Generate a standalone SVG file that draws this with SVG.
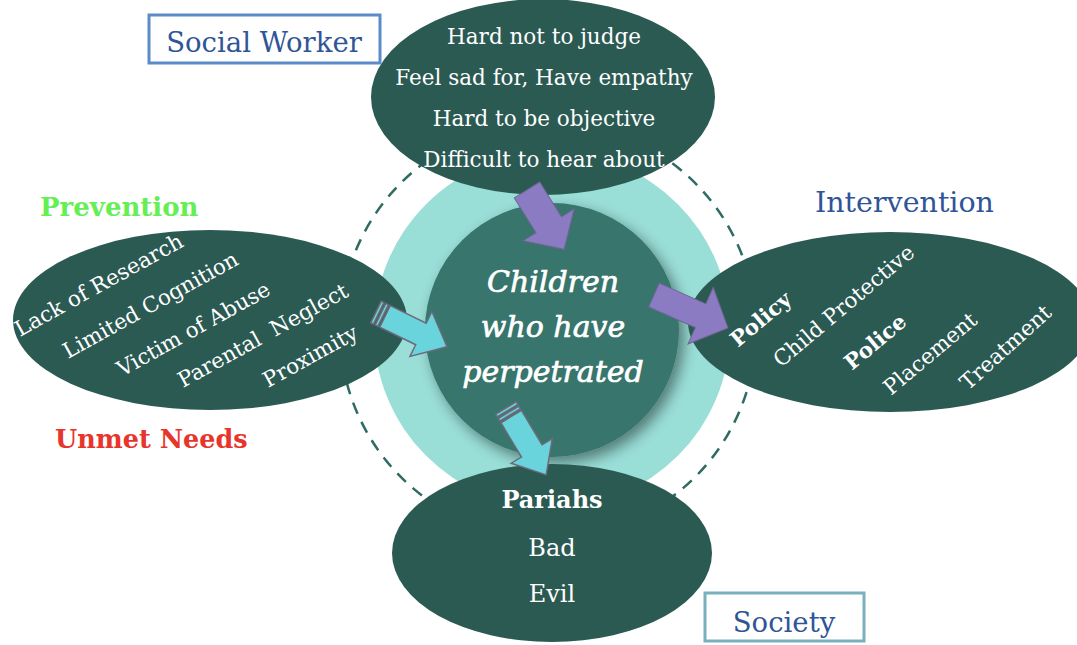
<svg xmlns="http://www.w3.org/2000/svg" width="1077" height="645" viewBox="0 0 1077 645">
<defs>
<style>
.node{fill:#2b5a53}
.t{font-family:"DejaVu Serif","Liberation Serif",serif;fill:#ffffff;font-size:21.5px}
.c{font-size:30px;font-style:italic;stroke:#ffffff;stroke-width:0.7px}
.big{font-size:24px}
.b{font-weight:bold}
.lbl{font-family:"DejaVu Serif","Liberation Serif",serif;font-size:27.5px}
.purple{fill:#8a7bc2;stroke:#6f6790;stroke-width:1}
.cyan{fill:#6ad4dc;stroke:#6b6b7a;stroke-width:1.5}
</style>
<filter id="sh" x="-20%" y="-20%" width="150%" height="150%">
<feDropShadow dx="5" dy="6" stdDeviation="7" flood-color="#000" flood-opacity="0.45"/>
</filter>
</defs>
<rect width="1077" height="645" fill="#ffffff"/>
<g id="rings">
<circle cx="548" cy="330" r="208" fill="none" stroke="#2e6b62" stroke-width="2.5" stroke-dasharray="12 9"/>
<circle cx="552" cy="330" r="178" fill="#99ded7"/>
</g>
<g id="node-center">
<circle cx="552" cy="330" r="127" fill="#37756c" filter="url(#sh)"/>
<text class="t c" text-anchor="middle"><tspan x="553" y="292">Children</tspan><tspan x="553" y="337">who have</tspan><tspan x="553" y="382">perpetrated</tspan></text>
</g>
<g id="node-socialworker">
<ellipse class="node" cx="543" cy="97" rx="172" ry="98"/>
<text class="t" text-anchor="middle"><tspan x="544" y="44">Hard not to judge</tspan><tspan x="544" y="85">Feel sad for, Have empathy</tspan><tspan x="544" y="126">Hard to be objective</tspan><tspan x="544" y="167">Difficult to hear about</tspan></text>
</g>
<g id="node-prevention">
<ellipse class="node" cx="210" cy="320" rx="197" ry="90"/>
<g class="t">
<text transform="translate(20,337) rotate(-29)">Lack of Research</text>
<text transform="translate(68,359) rotate(-29)">Limited Cognition</text>
<text transform="translate(122,377) rotate(-29)">Victim of Abuse</text>
<text transform="translate(183,388) rotate(-29)" xml:space="preserve">Parental  Neglect</text>
<text transform="translate(268,388) rotate(-29)">Proximity</text>
</g>
</g>
<g id="node-intervention">
<ellipse class="node" cx="890" cy="322" rx="202" ry="90"/>
<g class="t">
<text class="b" transform="translate(738,348) rotate(-40)">Policy</text>
<text transform="translate(781,368) rotate(-40)">Child Protective</text>
<text class="b" transform="translate(852,371) rotate(-40)">Police</text>
<text transform="translate(891,396) rotate(-40)">Placement</text>
<text transform="translate(968,391) rotate(-42)">Treatment</text>
</g>
</g>
<g id="node-society">
<ellipse class="node" cx="552" cy="553" rx="160" ry="89"/>
<text class="t big" text-anchor="middle"><tspan class="b" x="552" y="508">Pariahs</tspan><tspan x="552" y="556">Bad</tspan><tspan x="552" y="602">Evil</tspan></text>
</g>
<g id="connectors">
<path class="purple" transform="translate(527,190) rotate(58)" d="M0,-15 L41,-15 L41,-30 L70,0 L41,30 L41,15 L0,15 Z"/>
<path class="purple" transform="translate(654,295) rotate(24)" d="M0,-13 L51,-13 L51,-31 L81,0 L51,31 L51,13 L0,13 Z"/>
<g class="cyan" transform="translate(376,312) rotate(26)">
<path d="M0,-12 L3,-12 L3,12 L0,12 Z"/>
<path d="M5,-12 L8,-12 L8,12 L5,12 Z"/>
<path d="M10,-12 L50,-12 L50,-25 L79,0 L50,25 L50,12 L10,12 Z"/>
</g>
<g class="cyan" transform="translate(506,408) rotate(59)">
<path d="M0,-12 L3,-12 L3,12 L0,12 Z"/>
<path d="M5,-12 L8,-12 L8,12 L5,12 Z"/>
<path d="M10,-12 L50,-12 L50,-24 L78,0 L50,24 L50,12 L10,12 Z"/>
</g>
</g>
<g id="label-socialworker">
<rect x="149" y="15" width="231" height="48" fill="#fff" stroke="#5b8bc9" stroke-width="3"/>
<text class="lbl" x="264" y="52" text-anchor="middle" fill="#2f5597">Social Worker</text>
</g>
<g id="label-prevention"><text class="lbl" x="40" y="216" fill="#66ee55" font-weight="bold" style="font-size:26px">Prevention</text></g>
<g id="label-unmet"><text class="lbl" x="55" y="448" fill="#e8352b" font-weight="bold" style="font-size:25.5px">Unmet Needs</text></g>
<g id="label-intervention"><text class="lbl" x="815" y="212" fill="#2f5597" style="font-size:28.5px">Intervention</text></g>
<g id="label-society">
<rect x="705" y="593" width="159" height="48" fill="#fff" stroke="#79b0bd" stroke-width="3"/>
<text class="lbl" x="784" y="632" text-anchor="middle" fill="#2f5597">Society</text>
</g>
</svg>
